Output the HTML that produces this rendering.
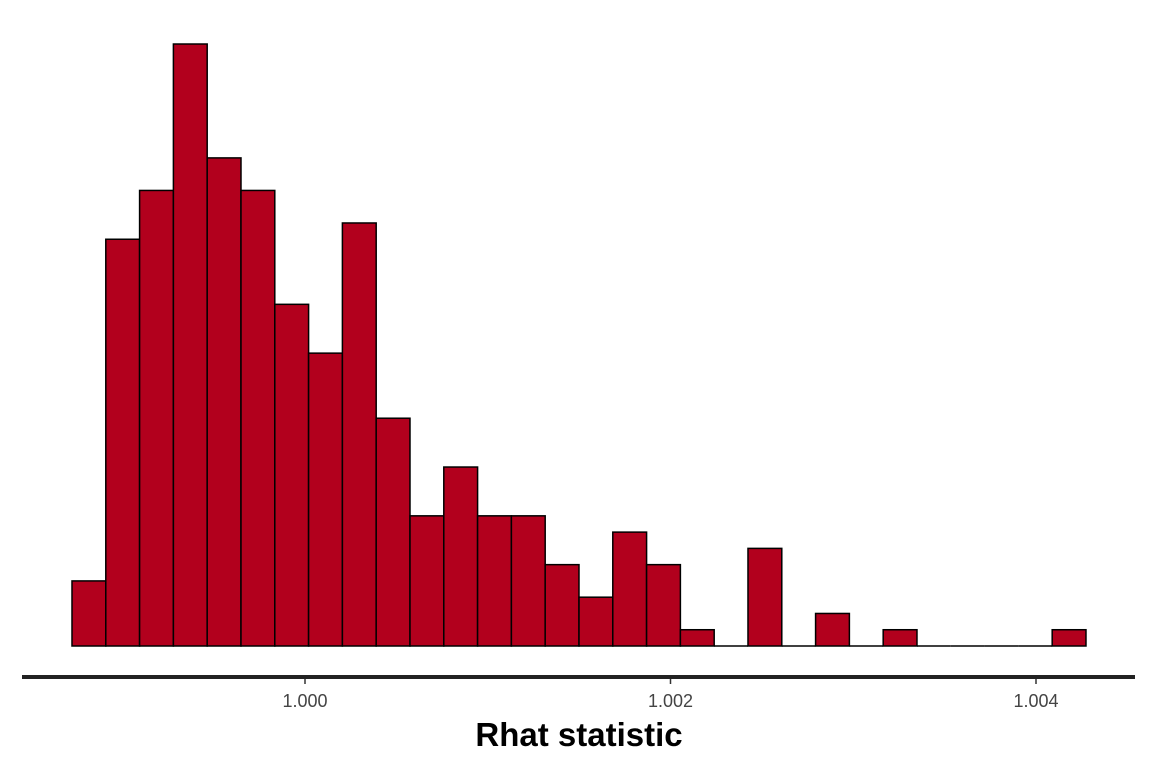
<!DOCTYPE html>
<html><head><meta charset="utf-8"><style>
html,body{margin:0;padding:0;background:#fff;}
svg{display:block;font-family:"Liberation Sans",sans-serif;}
</style></head><body>
<svg id="chart" width="1152" height="768"></svg>
<script>
const binCounts=[4,25,28,37,30,28,21,18,26,14,8,11,8,8,5,3,7,5,1,0,6,0,2,0,1,0,0,0,0,1];
const binStart=[0.998725];
const binWidth=[0.00018495];
const tickValues=[1.000,1.002,1.004];
const tickLabels=["1.000","1.002","1.004"];

const NS="http://www.w3.org/2000/svg";
const svg=document.getElementById('chart');
const x=v=>305+(v-1.000)*182750;
const baseY=646, unit=16.27;
const y=c=>baseY-c*unit;
function mk(t,a){const e=document.createElementNS(NS,t);for(const k in a)e.setAttribute(k,a[k]);svg.appendChild(e);return e;}

binCounts.forEach((c,i)=>{
  const x0=x(binStart[0]+i*binWidth[0]), x1=x(binStart[0]+(i+1)*binWidth[0]);
  if(c>0){
    const r=mk('rect',{x:x0,y:y(c),width:x1-x0,height:c*unit,fill:'#b2001d',stroke:'#000','stroke-width':1.5});
    
    
  } else {
    const l=mk('line',{x1:x0,x2:x1,y1:baseY,y2:baseY,stroke:'#000','stroke-width':1.5});
    
    
  }
});
const axis=mk('line',{x1:22,x2:1135,y1:677,y2:677,stroke:'#222','stroke-width':4});


tickValues.forEach((v,i)=>{
  const tk=mk('line',{x1:x(v),x2:x(v),y1:679,y2:684,stroke:'#333','stroke-width':1.5});
  
  
  const t=mk('text',{x:x(v),y:707,'text-anchor':'middle','font-size':18,fill:'#444'});
  t.textContent=tickLabels[i];
  
  
});
const title=mk('text',{x:579,y:746,'text-anchor':'middle','font-size':33,'font-weight':'bold',fill:'#000'});
title.textContent='Rhat statistic';


</script>
</body></html>
